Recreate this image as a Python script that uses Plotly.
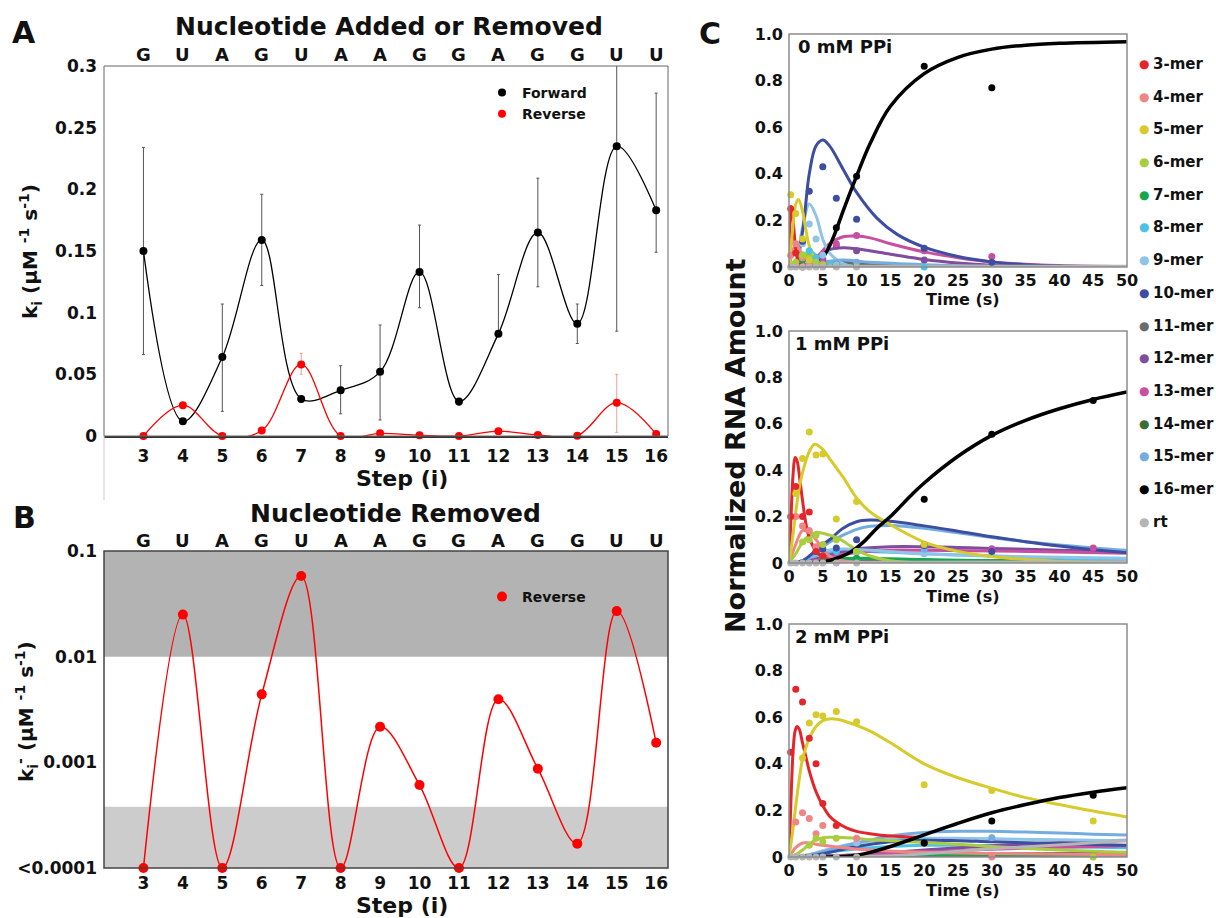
import plotly.graph_objects as go

W, H = 1216, 918
FONT = "DejaVu Sans"
INK = "#111111"

# ---------------- Panel A / B data ----------------
STEPS = list(range(3, 17))
NUCLEOTIDES = ["G", "U", "A", "G", "U", "A", "A", "G", "G", "A", "G", "G", "U", "U"]

FORWARD = [0.150, 0.012, 0.064, 0.159, 0.030, 0.037, 0.052, 0.133, 0.028, 0.083, 0.165, 0.091, 0.235, 0.183]
FORWARD_ERR_PLUS = [0.084, 0.0, 0.043, 0.037, 0.0, 0.020, 0.038, 0.038, 0.002, 0.048, 0.044, 0.016, 0.085, 0.095]
FORWARD_ERR_MINUS = [0.084, 0.0, 0.044, 0.037, 0.0, 0.019, 0.039, 0.029, 0.003, 0.0, 0.044, 0.016, 0.150, 0.034]

REVERSE = [0.0, 0.025, 0.0, 0.0044, 0.058, 0.0, 0.00217, 0.00061, 0.0, 0.00395, 0.00087, 0.00017, 0.027, 0.00153]
REVERSE_ERR_PLUS = [0, 0.002, 0, 0, 0.009, 0, 0, 0, 0, 0, 0, 0, 0.023, 0]
REVERSE_ERR_MINUS = [0, 0.002, 0, 0, 0.008, 0, 0, 0, 0, 0, 0, 0, 0.024, 0]
REVERSE_FLOOR = 1e-4          # values below are shown as "<0.0001"

A_YTICKS = [0, 0.05, 0.1, 0.15, 0.2, 0.25, 0.3]
A_YTICKTEXT = ["0", "0.05", "0.1", "0.15", "0.2", "0.25", "0.3"]
B_YTICKS = [1e-4, 1e-3, 1e-2, 1e-1]
B_YTICKTEXT = ["<0.0001", "0.001", "0.01", "0.1"]
BAND_HIGH = (0.01, 0.1)
BAND_LOW = (1e-4, 3.8e-4)

# ---------------- Panel C data ----------------
SPECIES = ["3-mer", "4-mer", "5-mer", "6-mer", "7-mer", "8-mer", "9-mer", "10-mer",
           "11-mer", "12-mer", "13-mer", "14-mer", "15-mer", "16-mer", "rt"]
COLORS = ["#e3262b", "#f08585", "#d6cb2b", "#a9cd3e", "#17a650", "#4cc3e6", "#8ec4e8", "#3d4ea1",
          "#6b6b6b", "#7f4c9e", "#c84f9f", "#3c6e34", "#74acdf", "#000000", "#b5b5b5"]
DRAW_ORDER = ["14-mer", "11-mer", "7-mer", "8-mer", "12-mer", "13-mer", "9-mer", "15-mer",
              "10-mer", "4-mer", "6-mer", "3-mer", "5-mer", "rt", "16-mer"]
C_LABELS = ["0 mM PPi", "1 mM PPi", "2 mM PPi"]
C_XTICKS = [0, 5, 10, 15, 20, 25, 30, 35, 40, 45, 50]
C_YTICKS = [0, 0.2, 0.4, 0.6, 0.8, 1.0]
C_YTICKTEXT = ["0", "0.2", "0.4", "0.6", "0.8", "1.0"]

T_PTS = [0.25, 1, 2, 3, 4, 5, 7, 10, 20, 30, 45]
N = None
PTS_0 = {
    "3-mer": [0.25, 0.06, 0.0, N, N, N, N, N, N, N, N],
    "4-mer": [0.05, 0.10, 0.04, 0.01, N, N, N, N, N, N, N],
    "5-mer": [0.31, 0.23, 0.12, 0.03, N, N, N, N, N, N, N],
    "6-mer": [N, 0.02, 0.05, 0.04, 0.02, 0.01, N, N, N, N, N],
    "7-mer": [N, N, 0.03, 0.04, 0.02, N, 0.01, 0.01, N, N, N],
    "8-mer": [N, N, 0.05, 0.07, 0.04, 0.02, N, N, 0.0, N, N],
    "9-mer": [N, N, 0.10, 0.185, 0.12, 0.05, 0.01, N, N, N, N],
    "10-mer": [N, N, 0.11, 0.325, N, 0.43, 0.295, 0.205, 0.08, 0.02, N],
    "11-mer": [N, N, N, N, N, 0.01, 0.01, N, N, N, N],
    "12-mer": [N, N, N, N, N, 0.035, 0.09, 0.07, 0.03, N, N],
    "13-mer": [N, N, N, N, N, 0.02, 0.10, 0.135, 0.07, 0.045, N],
    "14-mer": [N, N, N, N, N, N, 0.01, 0.01, N, N, N],
    "15-mer": [N, N, N, N, N, 0.01, N, 0.02, N, N, N],
    "16-mer": [N, N, N, N, N, N, 0.168, 0.39, 0.862, 0.769, N],
    "rt": [0, 0, 0, 0, 0, 0, 0, 0, N, N, N],
}
PTS_1 = {
    "3-mer": [0.20, 0.33, 0.20, 0.22, 0.05, 0.03, N, N, N, N, N],
    "4-mer": [N, 0.20, 0.16, 0.14, 0.07, N, N, N, N, N, N],
    "5-mer": [N, 0.30, 0.45, 0.565, 0.465, 0.47, 0.19, 0.265, 0.08, N, N],
    "6-mer": [N, N, 0.09, 0.10, 0.12, 0.08, 0.10, 0.05, N, N, N],
    "7-mer": [N, N, N, N, N, 0.02, N, 0.02, N, N, N],
    "8-mer": [N, N, N, N, N, N, 0.05, 0.05, N, N, N],
    "9-mer": [N, N, N, N, N, N, N, 0.05, 0.04, N, N],
    "10-mer": [N, N, N, N, 0.05, 0.06, 0.065, 0.10, 0.075, 0.05, N],
    "12-mer": [N, N, N, N, N, N, N, N, 0.07, 0.06, N],
    "13-mer": [N, N, N, N, N, N, N, N, 0.08, 0.06, 0.065],
    "15-mer": [N, N, N, N, N, N, N, N, 0.06, N, N],
    "16-mer": [N, N, N, N, N, N, N, N, 0.275, 0.555, 0.70],
    "rt": [0, 0, 0, 0, 0, 0, 0, 0, N, N, N],
}
PTS_2 = {
    "3-mer": [0.45, 0.72, 0.665, 0.51, 0.40, 0.23, 0.135, N, N, N, N],
    "4-mer": [N, 0.15, 0.19, 0.165, 0.10, 0.135, N, 0.08, N, 0.0, N],
    "5-mer": [N, N, 0.425, 0.575, 0.61, 0.605, 0.625, 0.58, 0.31, 0.285, 0.155],
    "6-mer": [N, N, N, 0.05, 0.08, 0.065, 0.08, N, N, N, 0.0],
    "9-mer": [N, N, N, N, N, N, N, 0.06, N, N, N],
    "10-mer": [N, N, N, N, N, N, N, N, 0.06, N, N],
    "15-mer": [N, N, N, N, N, N, N, N, N, 0.083, N],
    "16-mer": [N, N, N, N, N, N, N, N, 0.06, 0.155, 0.265],
    "rt": [0, 0, 0, 0, 0, 0, 0, 0, N, N, N],
}

# fitted curves: (time knots, fraction)
FIT_0 = {
    "3-mer": ([0, 0.15, 0.3, 0.6, 1.0, 1.5, 2.5, 50], [0, 0.2, 0.26, 0.2, 0.08, 0.02, 0, 0]),
    "4-mer": ([0, 0.5, 1, 1.5, 2, 3, 4, 50], [0, 0.06, 0.1, 0.08, 0.05, 0.015, 0, 0]),
    "5-mer": ([0, 0.5, 1, 1.4, 2, 2.5, 3, 4, 5, 50], [0, 0.15, 0.27, 0.29, 0.24, 0.16, 0.09, 0.02, 0, 0]),
    "6-mer": ([0, 1, 2, 3, 4, 5, 6, 50], [0, 0.03, 0.06, 0.05, 0.02, 0.01, 0, 0]),
    "7-mer": ([0, 1, 2, 3, 4, 5, 7, 50], [0, 0.01, 0.04, 0.04, 0.02, 0.01, 0, 0]),
    "8-mer": ([0, 1, 2, 3, 4, 5, 7, 10, 50], [0, 0.01, 0.04, 0.07, 0.05, 0.03, 0.01, 0, 0]),
    "9-mer": ([0, 1, 2, 3, 4, 5, 6, 8, 10, 50], [0, 0.03, 0.17, 0.27, 0.22, 0.12, 0.06, 0.015, 0, 0]),
    "10-mer": ([0, 1, 2, 3, 4, 5, 6, 8, 10, 13, 16, 20, 25, 30, 35, 40, 50],
               [0, 0.02, 0.15, 0.4, 0.52, 0.545, 0.52, 0.42, 0.32, 0.21, 0.14, 0.085, 0.045, 0.022, 0.01, 0.004, 0]),
    "11-mer": ([0, 3, 5, 8, 12, 20, 50], [0, 0.01, 0.02, 0.02, 0.01, 0, 0]),
    "12-mer": ([0, 2, 4, 6, 8, 10, 15, 20, 25, 30, 40, 50],
               [0, 0.005, 0.04, 0.075, 0.083, 0.078, 0.055, 0.032, 0.017, 0.008, 0.002, 0]),
    "13-mer": ([0, 2, 4, 6, 8, 10, 12, 15, 20, 25, 30, 40, 50],
               [0, 0.005, 0.04, 0.1, 0.13, 0.133, 0.125, 0.1, 0.065, 0.04, 0.022, 0.006, 0.002]),
    "14-mer": ([0, 5, 10, 20, 30, 50], [0, 0.003, 0.005, 0.004, 0.002, 0]),
    "15-mer": ([0, 3, 5, 8, 12, 20, 30, 50], [0, 0.005, 0.02, 0.03, 0.02, 0.01, 0.003, 0]),
    "16-mer": ([0, 2, 3, 4, 5, 6, 7, 8, 10, 12, 15, 20, 25, 30, 35, 40, 50],
               [0, 0, 0, 0.01, 0.04, 0.09, 0.16, 0.24, 0.39, 0.53, 0.69, 0.83, 0.9, 0.935, 0.952, 0.96, 0.967]),
    "rt": ([0, 50], [0.003, 0.003]),
}
FIT_1 = {
    "3-mer": ([0, 0.3, 0.6, 0.9, 1.2, 1.6, 2, 2.5, 3, 4, 5, 6, 7, 50],
              [0, 0.2, 0.38, 0.455, 0.44, 0.36, 0.27, 0.17, 0.11, 0.05, 0.025, 0.01, 0, 0]),
    "4-mer": ([0, 1, 2, 3, 4, 5, 6, 8, 50], [0, 0.08, 0.14, 0.13, 0.1, 0.06, 0.03, 0.01, 0]),
    "5-mer": ([0, 0.5, 1, 1.5, 2, 3, 3.8, 5, 6, 7, 8, 10, 12, 15, 20, 25, 30, 35, 40, 50],
              [0, 0.1, 0.22, 0.32, 0.39, 0.48, 0.512, 0.49, 0.45, 0.41, 0.37, 0.28, 0.22, 0.165, 0.09, 0.05, 0.028, 0.015, 0.008, 0.002]),
    "6-mer": ([0, 1, 2, 3, 4, 5, 6, 7, 8, 9, 10, 12, 15, 20, 50],
              [0, 0.04, 0.09, 0.12, 0.132, 0.128, 0.12, 0.11, 0.095, 0.075, 0.057, 0.03, 0.01, 0, 0]),
    "7-mer": ([0, 5, 10, 20, 30, 50], [0, 0.015, 0.02, 0.015, 0.01, 0.005]),
    "8-mer": ([0, 2, 5, 8, 12, 20, 30, 40, 50], [0, 0.01, 0.04, 0.05, 0.05, 0.04, 0.03, 0.02, 0.015]),
    "9-mer": ([0, 2, 5, 8, 12, 20, 30, 40, 50], [0, 0.01, 0.05, 0.06, 0.055, 0.04, 0.03, 0.025, 0.02]),
    "10-mer": ([0, 1, 2, 3, 4, 5, 6, 8, 10, 12, 15, 20, 25, 30, 35, 40, 45, 50],
               [0, 0.002, 0.01, 0.03, 0.055, 0.08, 0.1, 0.15, 0.178, 0.185, 0.18, 0.16, 0.137, 0.113, 0.092, 0.073, 0.057, 0.044]),
    "11-mer": ([0, 5, 10, 20, 30, 50], [0, 0.005, 0.01, 0.01, 0.01, 0.008]),
    "12-mer": ([0, 3, 6, 10, 15, 20, 25, 30, 40, 50], [0, 0.01, 0.035, 0.06, 0.07, 0.07, 0.067, 0.063, 0.055, 0.048]),
    "13-mer": ([0, 3, 6, 10, 15, 20, 30, 40, 50], [0, 0.005, 0.025, 0.045, 0.055, 0.055, 0.052, 0.047, 0.042]),
    "14-mer": ([0, 10, 20, 30, 40, 50], [0, 0.003, 0.006, 0.009, 0.012, 0.015]),
    "15-mer": ([0, 1, 2, 3, 4, 5, 6, 8, 10, 12, 15, 20, 25, 30, 35, 40, 45, 50],
               [0, 0.002, 0.008, 0.025, 0.045, 0.07, 0.09, 0.12, 0.145, 0.158, 0.162, 0.15, 0.13, 0.11, 0.092, 0.078, 0.065, 0.055]),
    "16-mer": ([0, 3, 5, 7, 9, 11, 13, 15, 18, 20, 25, 30, 35, 40, 45, 50],
               [0, 0, 0.005, 0.02, 0.045, 0.09, 0.15, 0.2, 0.29, 0.345, 0.46, 0.55, 0.615, 0.665, 0.705, 0.737]),
    "rt": ([0, 50], [0.002, 0.005]),
}
FIT_2 = {
    "3-mer": ([0, 0.3, 0.6, 0.9, 1.2, 1.5, 2, 2.5, 3, 4, 5, 6, 7, 8.5, 10, 12, 15, 19],
              [0, 0.25, 0.45, 0.54, 0.56, 0.55, 0.49, 0.43, 0.37, 0.28, 0.22, 0.175, 0.15, 0.125, 0.11, 0.1, 0.09, 0.085]),
    "4-mer": ([0, 1, 2, 3, 5, 8, 12, 20, 30, 50], [0, 0.04, 0.06, 0.06, 0.05, 0.04, 0.03, 0.02, 0.015, 0.01]),
    "5-mer": ([0, 0.5, 1, 1.5, 2, 2.5, 3, 4, 5, 6.3, 8, 10, 12, 15, 20, 25, 30, 35, 40, 45, 50],
              [0, 0.1, 0.22, 0.33, 0.42, 0.47, 0.51, 0.56, 0.585, 0.593, 0.585, 0.565, 0.54, 0.49, 0.4, 0.34, 0.295, 0.255, 0.225, 0.197, 0.172]),
    "6-mer": ([0, 1, 2, 3, 4, 5, 6, 7, 8, 10, 12, 15, 20, 25, 30, 40, 50],
              [0, 0.01, 0.03, 0.055, 0.075, 0.083, 0.085, 0.085, 0.084, 0.08, 0.075, 0.07, 0.062, 0.055, 0.045, 0.03, 0.02]),
    "7-mer": ([0, 5, 10, 20, 30, 40, 50], [0, 0.005, 0.008, 0.01, 0.01, 0.01, 0.01]),
    "8-mer": ([0, 3, 6, 10, 15, 20, 25, 30, 40, 50], [0, 0.005, 0.02, 0.035, 0.045, 0.05, 0.05, 0.048, 0.044, 0.04]),
    "9-mer": ([0, 3, 6, 10, 15, 20, 25, 30, 40, 50], [0, 0.01, 0.035, 0.06, 0.075, 0.08, 0.08, 0.078, 0.074, 0.07]),
    "10-mer": ([0, 3, 6, 10, 15, 20, 25, 30, 40, 50], [0, 0.005, 0.02, 0.045, 0.065, 0.072, 0.07, 0.065, 0.057, 0.05]),
    "11-mer": ([0, 5, 10, 20, 30, 40, 50], [0, 0.002, 0.005, 0.01, 0.013, 0.015, 0.017]),
    "12-mer": ([0, 5, 10, 20, 30, 40, 50], [0, 0.003, 0.01, 0.03, 0.048, 0.062, 0.072]),
    "13-mer": ([0, 5, 10, 20, 30, 40, 50], [0, 0.002, 0.008, 0.022, 0.033, 0.042, 0.048]),
    "14-mer": ([0, 10, 20, 30, 40, 50], [0, 0.001, 0.003, 0.005, 0.007, 0.009]),
    "15-mer": ([0, 2, 4, 6, 8, 10, 12, 15, 20, 25, 30, 35, 40, 45, 50],
               [0, 0.005, 0.015, 0.03, 0.045, 0.06, 0.073, 0.09, 0.105, 0.11, 0.11, 0.107, 0.103, 0.098, 0.094]),
    "16-mer": ([0, 5, 8, 10, 12, 15, 20, 25, 30, 35, 40, 45, 50],
               [0, 0, 0.002, 0.008, 0.02, 0.045, 0.095, 0.145, 0.19, 0.225, 0.255, 0.278, 0.297]),
    "rt": ([0, 15, 30, 50], [0, 0.005, 0.035, 0.07]),
}
C_PANELS = [(PTS_0, FIT_0), (PTS_1, FIT_1), (PTS_2, FIT_2)]


# ---------------- helpers (pixel -> paper) ----------------
def px(x):
    return x / W


def py(y):
    return 1 - y / H


COLOR_OF = dict(zip(SPECIES, COLORS))
fig = go.Figure()

# ---------------- Panel A ----------------
fig.add_trace(go.Scatter(
    x=STEPS, y=FORWARD, mode="lines", line=dict(color="black", width=1.3, shape="spline"),
    error_y=dict(type="data", array=FORWARD_ERR_PLUS, arrayminus=FORWARD_ERR_MINUS,
                 color="#555555", thickness=1, width=1.5),
    xaxis="x", yaxis="y", showlegend=False, hoverinfo="skip"))
fig.add_trace(go.Scatter(
    x=STEPS, y=REVERSE, mode="lines", line=dict(color="#ff0000", width=1.3, shape="spline"),
    error_y=dict(type="data", array=REVERSE_ERR_PLUS, arrayminus=REVERSE_ERR_MINUS,
                 color="#f29a9a", thickness=1, width=1.5),
    xaxis="x", yaxis="y", showlegend=False, hoverinfo="skip"))
fig.add_trace(go.Scatter(
    x=STEPS, y=FORWARD, mode="markers", name="Forward", marker=dict(color="black", size=8),
    xaxis="x", yaxis="y", cliponaxis=False, legend="legend"))
fig.add_trace(go.Scatter(
    x=STEPS, y=REVERSE, mode="markers", name="Reverse", marker=dict(color="#ff0000", size=8),
    xaxis="x", yaxis="y", cliponaxis=False, legend="legend"))

# ---------------- Panel B ----------------
rev_b = [max(v, REVERSE_FLOOR) for v in REVERSE]
fig.add_trace(go.Scatter(
    x=STEPS, y=rev_b, mode="lines", line=dict(color="#ff0000", width=1.5, shape="spline"),
    xaxis="x2", yaxis="y2", showlegend=False, hoverinfo="skip"))
fig.add_trace(go.Scatter(
    x=STEPS, y=rev_b, mode="markers", name="Reverse", marker=dict(color="#ff0000", size=10),
    xaxis="x2", yaxis="y2", cliponaxis=False, legend="legend2"))

# ---------------- Panel C ----------------
for i, (pts, fits) in enumerate(C_PANELS):
    xa, ya = f"x{i + 3}", f"y{i + 3}"
    for sp in DRAW_ORDER:
        t, y = fits[sp]
        fig.add_trace(go.Scatter(
            x=t, y=y, mode="lines",
            line=dict(color=COLOR_OF[sp], width=3.5 if sp == "16-mer" else 3, shape="spline", smoothing=1.0),
            xaxis=xa, yaxis=ya, showlegend=False, hoverinfo="skip"))
    for sp in DRAW_ORDER:
        vals = pts.get(sp)
        if not vals:
            continue
        tx = [t for t, v in zip(T_PTS, vals) if v is not None]
        vy = [v for v in vals if v is not None]
        fig.add_trace(go.Scatter(
            x=tx, y=vy, mode="markers", marker=dict(color=COLOR_OF[sp], size=7),
            xaxis=xa, yaxis=ya, showlegend=False, cliponaxis=False))

# ---------------- axes ----------------
tickfont_ab = dict(size=17, family=FONT, color=INK, weight="bold")
tickfont_c = dict(size=16, family=FONT, color=INK, weight="bold")
common = dict(showgrid=False, zeroline=False, ticks="", automargin=False)

layout_axes = dict(
    xaxis=dict(domain=[px(104), px(668)], anchor="y", range=[2, 16.3], tickvals=STEPS,
               showline=True, linecolor="#333333", linewidth=2, tickfont=tickfont_ab,
               ticklabelstandoff=4, **common),
    yaxis=dict(domain=[py(436), py(66)], anchor="x", range=[0, 0.3], tickvals=A_YTICKS,
               ticktext=A_YTICKTEXT, showline=False, tickfont=tickfont_ab,
               ticklabelstandoff=6, **common),
    xaxis2=dict(domain=[px(104), px(668)], anchor="y2", range=[2, 16.3], tickvals=STEPS,
                showline=False, tickfont=tickfont_ab, ticklabelstandoff=3, **common),
    yaxis2=dict(domain=[py(868), py(551)], anchor="x2", type="log", range=[-4, -1],
                tickvals=B_YTICKS, ticktext=B_YTICKTEXT, showline=False, tickfont=tickfont_ab,
                ticklabelstandoff=6, **common),
)
C_TOPS = [(34, 267), (331, 563), (624, 857)]
for i, (top, bot) in enumerate(C_TOPS):
    n = i + 3
    layout_axes[f"xaxis{n}"] = dict(domain=[px(789), px(1127)], anchor=f"y{n}", range=[0, 50],
                                    tickvals=C_XTICKS, showline=False, tickfont=tickfont_c,
                                    ticklabelstandoff=2, **common)
    layout_axes[f"yaxis{n}"] = dict(domain=[py(bot), py(top)], anchor=f"x{n}", range=[0, 1.0],
                                    tickvals=C_YTICKS, ticktext=C_YTICKTEXT, showline=False,
                                    tickfont=tickfont_c, ticklabelstandoff=5, **common)

# ---------------- shapes ----------------
shapes = [
    dict(type="rect", xref="x domain", yref="y domain", x0=0, x1=1, y0=0, y1=1,
         line=dict(color="#666666", width=1)),
    dict(type="line", xref="paper", yref="paper", x0=px(104), x1=px(104), y0=py(436), y1=py(500),
         line=dict(color="#cccccc", width=1)),
    dict(type="rect", xref="x2 domain", yref="y2", x0=0, x1=1, y0=BAND_HIGH[0], y1=BAND_HIGH[1],
         fillcolor="#b3b3b3", line=dict(width=0), layer="below"),
    dict(type="rect", xref="x2 domain", yref="y2", x0=0, x1=1, y0=BAND_LOW[0], y1=BAND_LOW[1],
         fillcolor="#cccccc", line=dict(width=0), layer="below"),
    dict(type="rect", xref="x2 domain", yref="y2 domain", x0=0, x1=1, y0=0, y1=1,
         line=dict(color="#444444", width=1.5)),
]
for n in (3, 4, 5):
    shapes.append(dict(type="rect", xref=f"x{n} domain", yref=f"y{n} domain", x0=0, x1=1, y0=0, y1=1,
                       line=dict(color="#8c8c8c", width=1.5)))

# ---------------- annotations ----------------
ann = []


def text(x, y, s, size, xanchor="center", angle=0, color=INK):
    ann.append(dict(x=px(x), y=py(y), xref="paper", yref="paper", text=s, showarrow=False,
                    xanchor=xanchor, yanchor="middle", textangle=angle,
                    font=dict(size=size, family=FONT, color=color, weight="bold")))


text(24, 32, "A", 30)
text(389, 26, "Nucleotide Added or Removed", 25)
text(402, 478, "Step (i)", 22)
text(30, 252, "k<sub>i</sub> (μM <sup>-1</sup> s<sup>-1</sup>)", 20, angle=-90)
text(24, 517, "B", 30)
text(395, 513, "Nucleotide Removed", 25)
text(402, 905, "Step (i)", 22)
text(26, 712, "k<sub>i</sub><sup>-</sup> (μM <sup>-1</sup> s<sup>-1</sup>)", 20, angle=-90)
for xa, yline in (("x", 55), ("x2", 540)):
    for s, nt in zip(STEPS, NUCLEOTIDES):
        ann.append(dict(x=s, y=py(yline), xref=xa, yref="paper", text=nt, showarrow=False,
                        xanchor="center", yanchor="middle",
                        font=dict(size=18, family=FONT, color=INK, weight="bold")))

text(710, 34, "C", 30)
text(735, 446, "Normalized RNA Amount", 27, angle=-90)
for lbl, (top, bot), lx in zip(C_LABELS, C_TOPS, (796, 793, 793)):
    text(lx, top + 12, lbl, 18, xanchor="left")
    text(963, bot + 33, "Time (s)", 16)
for k, (sp, c) in enumerate(zip(SPECIES, COLORS)):
    yk = 64 + 32.7 * k
    text(1144, yk, "●", 12, color=c)
    text(1151, yk, sp, 15, xanchor="left")

legend_style = dict(xanchor="left", yanchor="top", bgcolor="rgba(0,0,0,0)",
                    font=dict(size=14, family=FONT, color=INK, weight="bold"),
                    itemclick=False, itemdoubleclick=False, tracegroupgap=0)

fig.update_layout(
    width=W, height=H, margin=dict(l=0, r=0, t=0, b=0, pad=0, autoexpand=False),
    paper_bgcolor="white", plot_bgcolor="white",
    font=dict(family=FONT, color=INK, weight="bold"),
    shapes=shapes, annotations=ann,
    legend=dict(x=px(482), y=py(77), **legend_style),
    legend2=dict(x=px(482), y=py(581), **legend_style),
    **layout_axes,
)

fig.write_html("out.html")
